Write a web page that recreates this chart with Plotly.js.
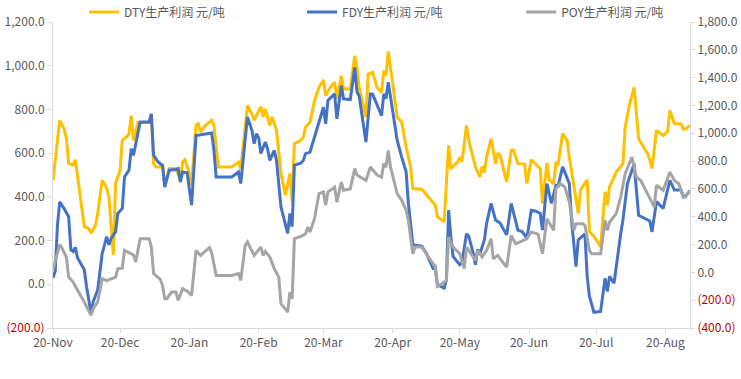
<!DOCTYPE html>
<html>
<head>
<meta charset="utf-8">
<script src="https://cdn.plot.ly/plotly-3.0.1.min.js"></script>
<style>html,body{margin:0;padding:0;background:#fff;}#chart{width:741px;height:379px;}</style>
</head>
<body>
<div id="chart"></div>
<script>
// Day index counted from 2019-11-20 (day 0) to 2020-08-31 (day 285)
const dtyDays = [0,2,3,5,6,7,9,10,11,13,14,16,17,19,20,22,24,25,26,27,28,30,31,33,34,35,36,38,43,44,45,46,48,49,50,52,55,57,58,59,61,62,64,65,66,68,71,72,73,74,80,83,84,87,89,90,93,94,95,96,97,98,100,102,104,106,107,108,111,112,113,115,117,119,121,122,124,126,127,129,130,133,135,136,137,140,141,143,145,147,148,149,150,151,153,154,156,158,160,161,165,168,171,172,175,177,178,181,182,183,185,186,188,189,191,192,193,194,196,198,199,200,203,205,206,208,211,212,214,216,218,219,221,222,224,225,226,228,230,231,233,235,236,239,240,242,245,247,248,249,252,255,256,258,260,262,266,267,268,270,273,275,276,278,281,282,283,285];
const dtyProfit = [476,658,750,710,666,553,545,570,491,330,263,255,234,270,326,476,440,400,263,134,461,522,658,675,689,772,658,740,740,780,553,537,537,550,455,530,530,475,560,570,507,453,727,734,696,725,750,730,628,537,537,559,529,818,780,750,813,765,803,765,727,765,704,507,408,507,377,643,660,673,719,742,840,901,935,863,900,924,848,954,894,894,1046,990,900,765,962,970,900,878,977,955,1065,992,830,765,742,628,537,438,435,400,362,309,286,636,529,559,582,560,727,658,582,537,491,540,510,582,666,552,600,590,468,613,615,552,550,461,570,550,529,370,555,476,460,555,550,689,660,582,461,324,431,478,240,220,172,423,362,445,514,552,719,825,901,666,598,570,529,704,681,700,795,734,734,711,711,727];

const fdyDays = [0,1,2,3,5,7,8,9,10,11,14,15,17,18,20,22,24,25,26,28,29,31,32,34,35,36,39,43,44,45,47,49,50,52,55,56,57,58,60,62,64,70,71,72,73,80,83,84,87,89,90,91,92,93,95,96,97,99,100,102,105,106,107,108,111,112,113,115,117,121,122,123,126,127,129,130,133,135,136,137,140,142,143,147,148,149,150,151,154,156,158,159,161,165,167,170,171,172,174,175,176,177,178,179,182,183,185,186,188,189,190,191,193,194,196,198,200,203,205,208,210,212,214,216,218,219,221,223,225,226,228,231,232,234,235,238,239,240,242,245,247,248,249,251,254,255,257,260,262,265,267,268,270,273,276,278,281,282,283,285];
const fdyProfit = [30,60,271,377,345,309,157,150,169,120,66,-10,-131,-80,-25,140,218,180,210,241,324,347,491,522,620,590,742,742,780,590,560,544,445,522,525,529,468,514,510,362,681,689,692,613,491,491,514,461,765,704,643,689,670,598,651,620,567,613,567,354,233,324,263,544,555,567,598,605,673,810,734,841,871,757,909,848,845,992,880,860,651,871,870,772,871,850,924,860,658,582,514,370,180,175,142,74,80,-2,-13,-17,20,339,218,127,89,100,231,220,142,89,160,140,203,279,370,294,280,226,370,248,240,211,339,335,324,248,461,370,453,450,537,461,294,81,203,231,36,-55,-128,-124,28,-33,36,5,231,294,461,552,316,301,290,240,378,347,476,431,431,400,405,427];

const poyDays = [0,2,3,4,6,7,9,11,14,17,18,20,22,24,26,28,29,31,32,34,36,37,39,43,44,45,48,49,50,51,53,55,56,58,60,62,64,66,68,70,71,73,80,83,84,86,87,90,93,94,95,97,99,101,102,105,106,107,108,111,113,114,115,117,119,121,122,123,126,127,129,130,133,135,136,140,142,145,147,148,149,150,151,154,156,158,159,161,162,165,167,170,171,172,175,176,177,179,182,184,185,187,189,190,192,194,196,197,199,200,203,205,207,209,212,214,217,219,221,224,225,227,229,231,233,234,237,238,240,241,245,247,248,249,252,254,256,259,261,263,266,269,270,273,276,278,280,282,283,285];
const poyProfit = [20,150,200,175,110,-34,-70,-129,-213,-309,-260,-213,-45,-60,-45,-34,27,30,158,140,125,74,242,242,182,-9,-50,-93,-189,-189,-142,-142,-201,-117,-135,-165,158,122,150,178,140,-22,-22,-9,-58,194,218,122,182,122,150,110,27,-34,-225,-285,-142,-190,242,259,278,326,290,386,566,577,482,577,613,505,649,590,600,746,700,661,757,700,685,782,757,877,757,566,518,446,374,134,182,182,134,63,40,-101,-70,-60,254,182,134,27,182,134,86,158,110,158,242,98,122,98,38,266,206,220,242,290,275,134,386,302,602,638,613,505,302,350,350,338,158,134,134,374,302,360,422,541,710,829,685,660,566,469,626,590,721,660,638,541,541,590];

const seriesNames = ['DTY生产利润 元/吨','FDY生产利润 元/吨','POY生产利润 元/吨'];
const xTickDays = [0,30,61,92,121,152,182,213,243,274];
const xTickLabels = ['20-Nov','20-Dec','20-Jan','20-Feb','20-Mar','20-Apr','20-May','20-Jun','20-Jul','20-Aug'];
const leftTickVals = [-200,0,200,400,600,800,1000,1200];
const leftTickLabels = ['(200.0)','0.0','200.0','400.0','600.0','800.0','1,000.0','1,200.0'];
const rightTickVals = [-400,-200,0,200,400,600,800,1000,1200,1400,1600,1800];
const rightTickLabels = ['(400.0)','(200.0)','0.0','200.0','400.0','600.0','800.0','1,000.0','1,200.0','1,400.0','1,600.0','1,800.0'];

const red = '#C00000';
function styleTicks(labels){
  return labels.map(t => t.startsWith('(') ? '<span style="color:'+red+'">'+t+'</span>' : t);
}

const traces = [
  {x: dtyDays, y: dtyProfit, name: seriesNames[0], type: 'scatter', mode: 'lines',
   line: {color: '#FFC000', width: 3}, yaxis: 'y', legend: 'legend'},
  {x: fdyDays, y: fdyProfit, name: seriesNames[1], type: 'scatter', mode: 'lines',
   line: {color: '#4472C4', width: 3}, yaxis: 'y', legend: 'legend2'},
  {x: poyDays, y: poyProfit, name: seriesNames[2], type: 'scatter', mode: 'lines',
   line: {color: '#A5A5A5', width: 3}, yaxis: 'y2', legend: 'legend3'}
];

const axisGray = '#D9D9D9';
const textGray = '#595959';
function legendAt(x){
  return {orientation: 'h', x: x, xanchor: 'left', y: 1.033, yanchor: 'middle',
          font: {size: 12, color: textGray}, bgcolor: 'rgba(0,0,0,0)', borderwidth: 0};
}
const layout = {
  width: 741, height: 379,
  margin: {l: 53, r: 51, t: 22, b: 51, pad: 0, autoexpand: false},
  paper_bgcolor: '#fff', plot_bgcolor: '#fff',
  font: {family: '"Noto Sans CJK SC", "Noto Sans", sans-serif', size: 12, color: textGray},
  showlegend: true,
  legend: legendAt(0.0487),
  legend2: legendAt(0.391),
  legend3: legendAt(0.735),
  xaxis: {range: [0, 285], tickvals: xTickDays, ticktext: xTickLabels,
          showline: true, linecolor: axisGray, linewidth: 1, ticks: 'outside', ticklen: 4,
          tickcolor: axisGray, showgrid: false, zeroline: false, fixedrange: true,
          tickfont: {size: 12, color: textGray}},
  yaxis: {range: [-200, 1200], tickvals: leftTickVals, ticktext: styleTicks(leftTickLabels),
          showline: true, linecolor: axisGray, ticks: 'outside', ticklen: 5, tickcolor: axisGray,
          showgrid: false, zeroline: false, tickfont: {size: 12, color: textGray}},
  yaxis2: {range: [-400, 1800], tickvals: rightTickVals, ticktext: styleTicks(rightTickLabels),
           overlaying: 'y', side: 'right', showline: true, linecolor: axisGray,
           ticks: 'outside', ticklen: 4, tickcolor: axisGray, showgrid: false, zeroline: false,
           tickfont: {size: 12, color: textGray}}
};

Plotly.newPlot('chart', traces, layout, {displayModeBar: false, staticPlot: true});
</script>
</body>
</html>
